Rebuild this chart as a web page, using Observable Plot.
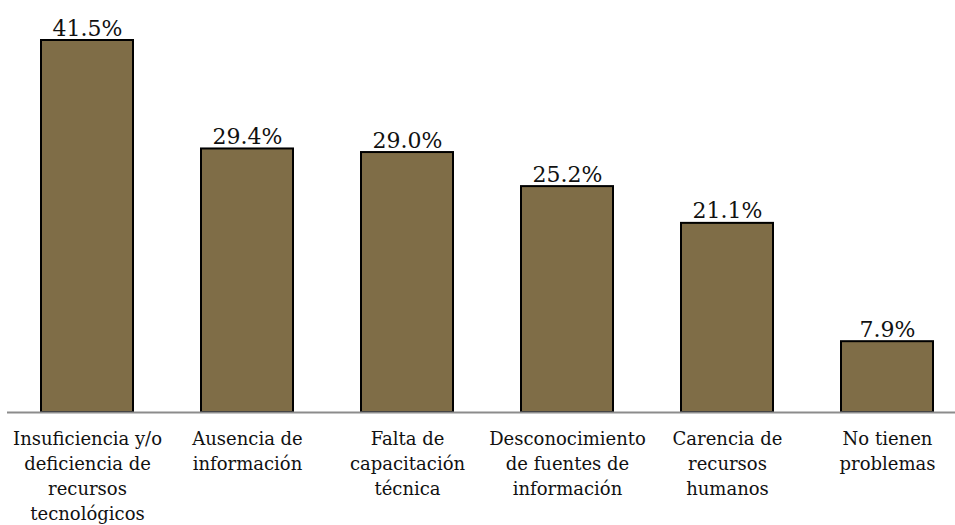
<!DOCTYPE html>
<html><head><meta charset="utf-8">
<script src="https://cdn.jsdelivr.net/npm/d3@7"></script>
<script src="https://cdn.jsdelivr.net/npm/@observablehq/plot@0.6"></script>
<style>body{margin:0;background:#fff;} svg{display:block;}</style>
</head><body><div id="chart"></div>
<script>
const categories = [
  "Insuficiencia y/o\ndeficiencia de\nrecursos\ntecnológicos",
  "Ausencia de\ninformación",
  "Falta de\ncapacitación\ntécnica",
  "Desconocimiento\nde fuentes de\ninformación",
  "Carencia de\nrecursos\nhumanos",
  "No tienen\nproblemas"
];
const values = [41.5, 29.4, 29.0, 25.2, 21.1, 7.9];
const valueLabels = ["41.5%", "29.4%", "29.0%", "25.2%", "21.1%", "7.9%"];

const data = categories.map((c, i) => ({cat: c, value: values[i], label: valueLabels[i]}));

const chart = Plot.plot({
  width: 955,
  height: 525,
  marginLeft: 7,
  marginRight: 0,
  marginTop: 40,
  marginBottom: 113,
  style: {fontFamily: "DejaVu Serif", background: "#fff"},
  x: {domain: categories, range: [6, 968], paddingInner: 0.4264, paddingOuter: 0.2132, label: null},
  y: {domain: [0, 41.5], range: [412, 40], axis: null},
  marks: [
    Plot.barY(data, {x: "cat", y: "value", fill: "#7F6D47", stroke: "#000", strokeWidth: 2}),
    Plot.ruleY([0], {stroke: "#8c8c8c", strokeWidth: 2}),
    Plot.text(data, {x: "cat", y: "value", text: "label", lineAnchor: "bottom", dy: -5, fontSize: 22, fill: "#111"}),
    Plot.axisX({tickSize: 0, tickPadding: 15, fontSize: 18, lineHeight: 1.38, fill: "#111", label: null})
  ]
});
document.getElementById("chart").appendChild(chart);
</script></body></html>
